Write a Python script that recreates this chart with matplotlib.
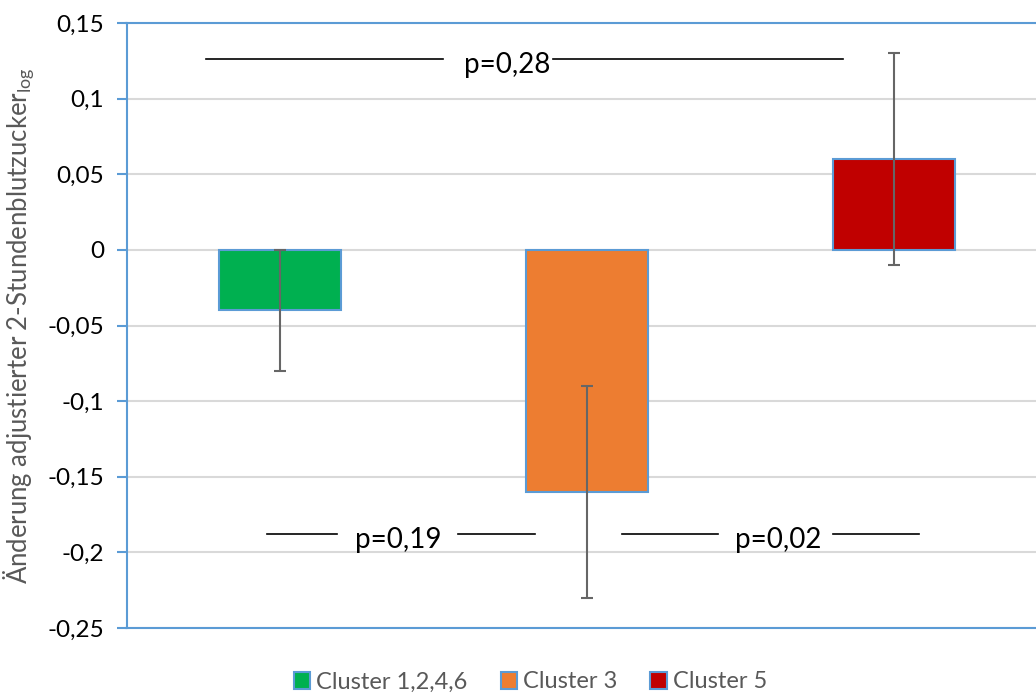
import numpy as np
import matplotlib
matplotlib.use("Agg")
import matplotlib.pyplot as plt
from matplotlib.patches import Patch

plt.rcParams['font.family'] = ['Lato', 'DejaVu Sans']
plt.rcParams['mathtext.fontset'] = 'custom'
plt.rcParams['mathtext.rm'] = 'Lato'

# Daten
clusters = ['Cluster 1,2,4,6', 'Cluster 3', 'Cluster 5']
werte = [-0.04, -0.16, 0.06]
ci_unten = [-0.08, -0.23, -0.01]
ci_oben = [0.0, -0.09, 0.13]
farben = ['#00B050', '#ED7D31', '#C00000']

# p-Werte: (Text, y, x Text, Liniensegmente)
p_werte = [
    ("p=0,28", 0.1263, 0.739, [(-0.241, 0.531), (0.889, 1.834)]),
    ("p=0,19", -0.188, 0.385, [(-0.042, 0.186), (0.580, 0.831)]),
    ("p=0,02", -0.188, 1.622, [(1.114, 1.427), (1.801, 2.080)]),
]

fig = plt.figure(figsize=(10.36, 6.94), dpi=100)
ax = fig.add_axes([126.5 / 1036, 1 - 628 / 694, 921 / 1036, 605 / 694])

x = np.arange(len(clusters))
werte_arr = np.array(werte)
yerr = [werte_arr - np.array(ci_unten), np.array(ci_oben) - werte_arr]

ax.bar(x, werte, width=0.4, color=farben, edgecolor='#5B9BD5', linewidth=1.5, zorder=3)
ax.errorbar(x, werte, yerr=yerr, fmt='none', ecolor='#666666', elinewidth=1.5,
            capsize=4.5, capthick=1.5, zorder=4)

# p-Wert Annotationen
for text, y, xt, segmente in p_werte:
    for x0, x1 in segmente:
        ax.plot([x0, x1], [y, y], color='black', linewidth=1.2, zorder=5)
    ax.text(xt, y - 0.004, text, ha='center', va='center', fontsize=20, color='black', zorder=5)

ax.set_xlim(-0.5, 2.5)
ax.set_ylim(-0.25, 0.15)
yticks = np.arange(-0.25, 0.151, 0.05)
ax.set_yticks(yticks)
labels = []
for v in yticks:
    v = round(v, 2)
    labels.append(('0' if v == 0 else '%g' % v).replace('.', ','))
ax.set_yticklabels(labels, fontsize=17.5)
ax.set_xticks([])

ax.yaxis.grid(True, color='#D9D9D9', linewidth=1.5, zorder=0)
ax.set_axisbelow(True)

for s in ['left', 'top', 'bottom']:
    ax.spines[s].set_color('#5B9BD5')
    ax.spines[s].set_linewidth(1.5)
ax.spines['right'].set_visible(False)
ax.tick_params(axis='y', direction='out', length=7, width=1.5, color='#5B9BD5', pad=9)

ax.set_ylabel(r'Änderung adjustierter 2-Stundenblutzucker$_{\mathregular{log}}$',
              fontsize=18.5, color='#595959')
ax.yaxis.set_label_coords(-0.098, 0.5)

handles = [Patch(facecolor=c, edgecolor='#5B9BD5', linewidth=1.5) for c in farben]
fig.legend(handles, clusters, loc='center', bbox_to_anchor=(0.512, 1 - 682 / 694), ncol=3,
           frameon=False, fontsize=17, handlelength=0.7, handleheight=0.7,
           handletextpad=0.25, columnspacing=1.4, labelcolor='#595959')

fig.savefig('out.png', dpi=100)
